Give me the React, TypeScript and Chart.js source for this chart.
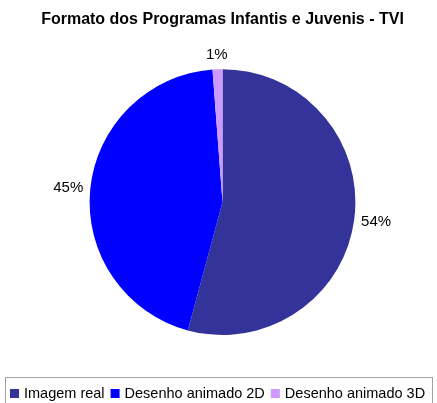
import React, { useEffect, useRef } from "react";
import { Chart, registerables } from "chart.js";

Chart.register(...registerables);

const TITLE = "Formato dos Programas Infantis e Juvenis - TVI";
const categories = ["Imagem real", "Desenho animado 2D", "Desenho animado 3D"];
const values = [54.2, 44.6, 1.2];
const colors = ["#333399", "#0000FF", "#CC99FF"];
const FONT = "'Liberation Sans', Arial, Helvetica, sans-serif";

const pctLabels = {
  id: "pctLabels",
  afterDatasetsDraw(chart: any) {
    const ctx = chart.ctx;
    const meta = chart.getDatasetMeta(0);
    const data = chart.data.datasets[0].data as number[];
    const total = data.reduce((a, b) => a + b, 0);
    ctx.save();
    ctx.font = `15px ${FONT}`;
    ctx.fillStyle = "#000";
    ctx.textAlign = "center";
    ctx.textBaseline = "middle";
    meta.data.forEach((arc: any, i: number) => {
      const { x, y, startAngle, endAngle, outerRadius } = arc.getProps(
        ["x", "y", "startAngle", "endAngle", "outerRadius"],
        true
      );
      const mid = (startAngle + endAngle) / 2;
      const txt = Math.round((data[i] / total) * 100) + "%";
      const w = ctx.measureText(txt).width;
      const h = 15;
      const ax = x + Math.cos(mid) * (outerRadius + 7);
      const ay = y + Math.sin(mid) * (outerRadius + 7);
      ctx.fillText(txt, ax + Math.cos(mid) * (w / 2), ay + Math.sin(mid) * (h / 2));
    });
    ctx.restore();
  },
};

const boxLegend = {
  id: "boxLegend",
  afterDraw(chart: any) {
    const ctx = chart.ctx;
    const ds = chart.data.datasets[0];
    const labels = chart.data.labels as string[];
    ctx.save();
    ctx.strokeStyle = "#a0a0a0";
    ctx.lineWidth = 1;
    ctx.strokeRect(5.5, 377.5, 427, 40);
    ctx.font = `14.5px ${FONT}`;
    ctx.textBaseline = "middle";
    ctx.textAlign = "left";
    let x = 10;
    const cy = 393.5;
    labels.forEach((lab, i) => {
      ctx.fillStyle = ds.backgroundColor[i];
      ctx.fillRect(x, cy - 4.5, 9, 9);
      x += 9 + 5;
      ctx.fillStyle = "#000";
      ctx.fillText(lab, x, cy);
      x += ctx.measureText(lab).width + 6;
    });
    ctx.restore();
  },
};

export default function App() {
  const ref = useRef<HTMLCanvasElement>(null);
  useEffect(() => {
    if (!ref.current) return;
    const chart = new Chart(ref.current, {
      type: "pie",
      data: {
        labels: categories,
        datasets: [
          {
            data: values,
            backgroundColor: colors,
            borderWidth: 0,
          },
        ],
      },
      options: {
        animation: false,
        responsive: false,
        maintainAspectRatio: false,
        devicePixelRatio: 1,
        layout: { padding: { left: 20, right: 12, top: 0, bottom: 68 } },
        plugins: {
          legend: { display: false },
          tooltip: { enabled: false },
          title: {
            display: true,
            text: TITLE,
            color: "#000",
            font: { family: FONT, size: 16, weight: "bold" },
            padding: { top: 10, bottom: 40 },
          },
        },
      },
      plugins: [pctLabels, boxLegend],
    });
    return () => chart.destroy();
  }, []);
  return (
    <div style={{ position: "fixed", left: 0, top: 0, width: 437, height: 403, background: "#fff" }}>
      <canvas ref={ref} width={437} height={403} style={{ display: "block" }} />
    </div>
  );
}
